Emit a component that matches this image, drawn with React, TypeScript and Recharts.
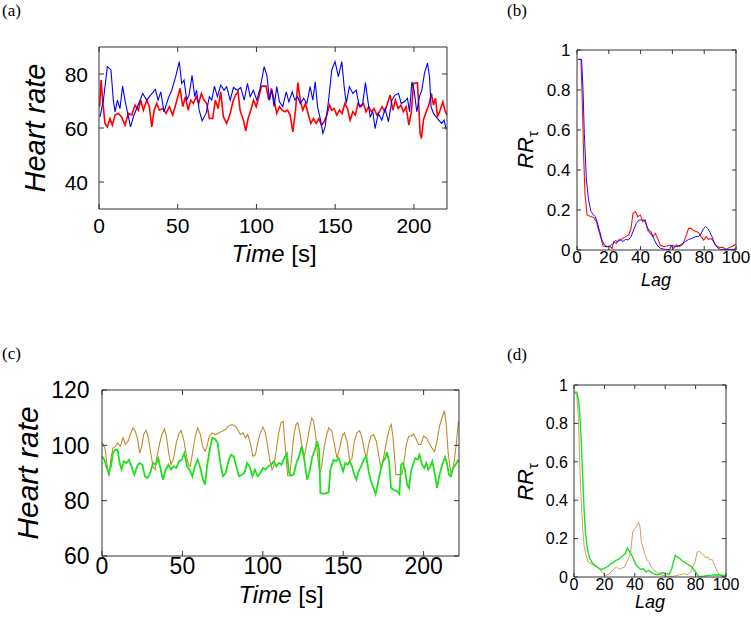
import React from 'react';
import { LineChart, Line, XAxis, YAxis } from 'recharts';

// (a) heart rate vs time
const blueTimeA = [0.6, 2.8, 5.3, 7.6, 9.1, 10.2, 11.7, 13.3, 15, 16.5, 18, 20, 22.2, 24.4, 27.8, 30.3, 32.8, 35.8, 37.5, 39.2, 41.3, 44, 46.2, 48.7, 51, 52.5, 54, 55.7, 57.2, 59.1, 60.8, 62, 63.6, 65.5, 68, 70.1, 71.6, 73.3, 75.2, 77.3, 79.4, 81.1, 83.3, 85.4, 87.9, 90, 92.2, 94.3, 96, 98, 100.2, 102.3, 104.9, 106.6, 108.3, 109.7, 111.2, 112.9, 114.6, 116.7, 118.9, 120.6, 122.7, 124.4, 126.1, 127.8, 129.9, 132, 134.1, 135.8, 137.3, 138.8, 140.5, 142.2, 143.6, 145.8, 147.8, 149.9, 152, 154.2, 155.7, 157, 159, 161.2, 163.3, 165.4, 167.5, 169.2, 170.7, 172.2, 173.9, 175.3, 177.4, 179.6, 181.7, 183.8, 186, 188, 190.2, 191.9, 193.8, 195.9, 197.2, 198.7, 200.1, 201.8, 203.5, 205, 206.7, 208.6, 209.9, 210.9, 212.4, 214.1, 215.8, 217.5, 219.2, 220.5];
const blueHrA = [64.1, 70.3, 82.7, 81.5, 70.3, 66, 70.3, 67.2, 75.5, 70.3, 66, 60.4, 64.8, 67.9, 72.8, 70.3, 72.2, 74.3, 70.3, 73.4, 66, 71, 74, 79, 84.6, 76.5, 77.8, 70.3, 72.2, 79.5, 71.6, 74, 66.6, 62.7, 65.4, 71.6, 70.3, 75.5, 71.6, 75.9, 74, 75.3, 70.3, 75, 74, 75, 70.3, 76.5, 71.6, 74, 70.3, 74.7, 82.7, 79.6, 70.3, 74, 67.9, 75.3, 69.7, 67.9, 73.4, 69.7, 73.4, 70.3, 71.6, 69.1, 71, 69.1, 75.3, 70.3, 77.1, 67.9, 63.5, 58, 60.4, 70.3, 81.5, 84.6, 79, 84.6, 75.3, 69.1, 75.3, 72.8, 74, 67.9, 69.1, 76.8, 70.3, 64.1, 66, 59.8, 65.4, 62.9, 67.2, 62.3, 70.3, 72.2, 72.8, 69.1, 69.7, 71, 66, 77.1, 74, 66, 71.6, 74, 80.3, 84, 79, 67.9, 65.4, 64.1, 62.9, 61.7, 62.9, 59.4];
const redTimeA = [0.4, 1.3, 2.3, 3.8, 5.3, 7, 8.5, 10.2, 12.3, 14.4, 16.5, 18.6, 20.8, 22.9, 25, 26.5, 28.2, 30.3, 32, 33.5, 35, 36.7, 38.3, 40.5, 42.6, 44.7, 46.8, 48.9, 51.5, 53.2, 54.9, 56.6, 58.3, 60, 61.7, 63.3, 65, 66.7, 68.4, 70.1, 72.2, 73.9, 75.6, 77.3, 79, 81.1, 83.3, 85, 86.7, 88.3, 89.6, 91.7, 93.2, 94.7, 96.4, 98.1, 99.8, 101.5, 103.2, 106.1, 107.8, 109.5, 111.2, 112.9, 114.6, 116.3, 118, 119.7, 121.4, 123.1, 124.8, 126.3, 127.8, 129.4, 131.1, 132.8, 134.5, 136.2, 137.9, 139.6, 141.3, 143, 144.7, 146.4, 147.8, 149.3, 151, 152.7, 154.4, 156.1, 157.8, 159.5, 161.2, 162.8, 164.5, 166.3, 167.9, 169.6, 171.3, 173, 174.7, 176.4, 178.1, 179.8, 181.5, 183.2, 184.9, 186.6, 188.2, 190, 191.7, 193.3, 195, 196.8, 198.4, 199.7, 202.2, 203.1, 203.9, 204.8, 206, 207.8, 209.5, 211.1, 212.4, 213.7, 215, 216.6, 218.4, 219.6, 220.9];
const redHrA = [67.9, 77.8, 70.3, 61.7, 60.4, 63.5, 61, 64.8, 65.4, 64.1, 61, 65.4, 64.8, 68.5, 66.6, 70.3, 66.6, 70.3, 67.9, 60.4, 66.6, 69.1, 66.6, 67.2, 65.4, 67.9, 64.8, 69.1, 74.7, 67.9, 71.6, 66.6, 70.3, 69.1, 71.6, 69.1, 72.8, 70.3, 69.1, 63.5, 63.5, 70.3, 67.2, 73.4, 64.1, 61.7, 65.4, 69.7, 72.2, 73.4, 66.6, 62.9, 58.9, 63.5, 66.6, 70.3, 67.9, 71.6, 75.5, 75.5, 70.3, 74.7, 70.3, 65.4, 67.9, 66.6, 66, 66.6, 64.8, 58.6, 66.6, 76.8, 70.3, 66.6, 69.1, 65.4, 61.7, 63.5, 61.7, 63.5, 61, 62.3, 64.8, 68.5, 66.6, 67.2, 64.8, 66.6, 65.4, 69.1, 67.2, 62.9, 66, 64.8, 69.1, 67.9, 69.1, 66, 67.9, 66, 67.2, 64.8, 66, 67.9, 66, 69.1, 72.2, 66.6, 70.3, 67.2, 68.5, 66, 67.9, 61.1, 66, 76.5, 76.8, 67.9, 58, 56.1, 62.9, 66, 68.5, 72.8, 68.5, 71, 64.1, 66.6, 69.7, 66.6, 64.8];

// (b) recurrence rate vs lag
const redLagB = [1, 2.5, 3.4, 4.2, 5, 6.3, 8.4, 10.5, 12.2, 13.6, 15.1, 16.4, 18.9, 21, 22, 23.1, 24.7, 26.2, 28.3, 30.4, 32.5, 34, 35.2, 36.7, 38.2, 39.8, 41.5, 43, 44.4, 46.1, 47.8, 49.3, 50.7, 52.4, 54.5, 56.6, 58.7, 60.8, 62.5, 64.6, 66.7, 68.8, 70.2, 71.7, 73.4, 75, 76.5, 78, 79.7, 81.3, 82.8, 84.3, 86, 87.6, 89.7, 91.8, 93.9, 96, 98.1, 99.8];
const redRrB = [0.953, 0.953, 0.717, 0.467, 0.283, 0.175, 0.167, 0.163, 0.142, 0.1, 0.058, 0.02, 0.017, 0.017, 0.008, 0.042, 0.033, 0.05, 0.055, 0.067, 0.075, 0.108, 0.183, 0.192, 0.167, 0.175, 0.142, 0.15, 0.1, 0.083, 0.067, 0.083, 0.058, 0.025, 0.017, 0.02, 0.025, 0.008, 0.025, 0.017, 0.03, 0.075, 0.108, 0.108, 0.097, 0.092, 0.087, 0.067, 0.05, 0.067, 0.053, 0.058, 0.042, 0.02, 0.013, 0.013, 0.003, 0.013, 0.02, 0.03];
const blueLagB = [0.4, 2.9, 3.8, 4.6, 5.9, 7.3, 8.8, 10.5, 11.5, 12.6, 14.3, 15.7, 17.2, 18.9, 21, 22.6, 24.1, 25.6, 27.3, 28.9, 30.6, 32.3, 34, 35.6, 37.3, 39, 40.7, 42.3, 43.6, 45.1, 46.5, 48.2, 50.3, 52.4, 55.6, 58.3, 59.7, 61.8, 63.9, 66, 68.1, 70.2, 72.3, 74.4, 76.5, 78, 79.7, 80.9, 82.2, 83.4, 84.9, 86.4, 88.1, 90.1, 94.3, 98.5, 99.8];
const blueRrB = [0.953, 0.953, 0.8, 0.583, 0.35, 0.25, 0.192, 0.175, 0.167, 0.142, 0.092, 0.05, 0.025, 0.017, 0.02, 0.033, 0.047, 0.042, 0.05, 0.043, 0.053, 0.05, 0.067, 0.1, 0.133, 0.15, 0.15, 0.15, 0.125, 0.1, 0.092, 0.058, 0.025, 0.008, 0.003, 0.003, 0.025, 0.017, 0.02, 0.03, 0.042, 0.053, 0.058, 0.067, 0.067, 0.083, 0.108, 0.117, 0.108, 0.092, 0.067, 0.033, 0.013, 0.003, 0.003, 0.003, 0.007];

// (c) heart rate vs time
const brownTimeC = [0.4, 2.1, 3.5, 4.4, 5.6, 6.8, 8.3, 9.7, 11.4, 13.1, 14.5, 16.2, 17.6, 19.3, 20.7, 22.2, 23.4, 24.7, 25.9, 27.4, 28.6, 30, 31.7, 33, 34.2, 35.9, 37.3, 38.8, 40, 41.5, 42.9, 44.6, 46.2, 47.7, 49.1, 50.8, 52.2, 53.7, 54.9, 56.6, 58, 59.5, 61.2, 62.6, 64.1, 65.3, 66.7, 68.4, 70.5, 72.6, 74.6, 76.7, 78.8, 80.8, 82.9, 84.4, 86, 87.7, 89.1, 90.6, 92.2, 93.9, 95.4, 96.8, 98.5, 100.1, 101.6, 103, 104.3, 105.7, 106.8, 108.4, 109.9, 111.3, 112.6, 113.4, 114.6, 115.5, 116.7, 118, 119.2, 120.6, 121.7, 122.9, 124.4, 125.8, 127.5, 128.9, 130.4, 131.6, 132.9, 134.1, 135.4, 136.6, 137.9, 139.5, 141, 143, 144.5, 146.1, 147.8, 149.4, 150.7, 152.4, 154, 155.5, 156.9, 158.6, 160.2, 161.7, 163.1, 164.4, 165.8, 167.3, 168.9, 170.6, 172, 173.5, 174.7, 176.2, 177.6, 178.9, 179.9, 181, 182, 182.8, 184.5, 186.6, 187.6, 189.2, 190.7, 192.2, 193.8, 195.5, 196.9, 198.4, 200, 201.7, 203.3, 205.2, 206.8, 208.3, 209.9, 211.4, 212.9, 214.1, 215.2, 216.2, 217.2, 218.7, 220.3, 221.6];
const brownHrC = [100.9, 98.4, 91.2, 88.8, 95.4, 99, 99.6, 100.9, 99.6, 102.7, 100.3, 101.5, 103.9, 106.3, 105.1, 102.1, 97.2, 99.6, 103.9, 105.4, 103.3, 98.4, 92.4, 91.2, 96, 100.9, 103.9, 105.9, 103.3, 97.2, 93, 95.4, 100.9, 103.9, 105.4, 102.1, 97.2, 93, 92.4, 98.4, 103.3, 106.3, 103.9, 99.6, 97.8, 99.6, 103.3, 104.5, 103.9, 104.5, 105.1, 105.7, 107.1, 107.5, 106.9, 105.7, 103.9, 104.5, 102.7, 103.9, 100.9, 96, 96.6, 100.9, 104.5, 106.6, 104.5, 99.6, 94.8, 91.2, 92.4, 98.4, 104.5, 108.1, 108.7, 103.3, 94.8, 89, 89, 96, 103.3, 107.5, 108.1, 105.1, 99.6, 96, 100.9, 105.7, 109.9, 108.7, 103.3, 96, 90, 92.4, 98.4, 103.3, 106.3, 105.1, 100.3, 95.4, 99, 103.3, 104.5, 101.5, 94.2, 95.4, 101.5, 104.5, 105.3, 102.7, 98.4, 95.4, 100.3, 103.3, 103.9, 101.5, 96.6, 91.8, 94.2, 99, 103.3, 106.3, 107.5, 102.7, 95.4, 89.4, 89.4, 89.6, 93, 100.3, 103.3, 103.3, 104.1, 102.1, 100.3, 100.3, 103.3, 102.7, 100.9, 99, 97.8, 101.5, 106.9, 109.9, 112.5, 107.5, 97.8, 93, 89.4, 93, 100.3, 108.7];
const greenTimeC = [0, 1.5, 2.7, 4.1, 5.6, 6.8, 8.3, 9.7, 11, 12.2, 13.5, 15.1, 16.8, 18.4, 20.1, 21.8, 23.4, 25.1, 26.7, 28.4, 30, 31.7, 33.4, 35, 36.5, 37.9, 39.6, 41.3, 42.9, 44.6, 46.2, 47.9, 49.5, 51.2, 52.9, 54.5, 56.2, 57.8, 59.5, 61.2, 62.8, 64.1, 65.3, 67, 68.6, 70.3, 71.9, 73.6, 75.2, 76.9, 78.6, 80.2, 81.9, 83.5, 85.2, 86.9, 88.5, 90.2, 91.8, 93.5, 95.1, 96.8, 98.5, 100.1, 101.8, 103.4, 105.1, 106.8, 108.4, 110.1, 111.7, 113.4, 115, 116.3, 117.5, 119.2, 120.9, 122.5, 124.2, 125.8, 127.5, 129.1, 130.8, 132.5, 133.7, 135, 135.8, 137.9, 141, 142, 144, 145.8, 147.2, 148.6, 149.9, 151.3, 152.7, 154, 155.5, 156.9, 158.2, 159.6, 161.1, 162.7, 164.4, 165.8, 167.3, 168.9, 170.2, 171.4, 173.1, 174.7, 176.2, 177.2, 178.5, 179.7, 181.3, 183.5, 184.9, 186, 187.2, 188.4, 189.7, 190.9, 192.2, 193.4, 194.8, 196.3, 197.5, 199, 200.4, 201.7, 202.9, 204.2, 205.4, 207.1, 208.3, 209.9, 211.6, 213.3, 214.5, 215.8, 217, 218.3, 219.9, 221.6];
const greenHrC = [96, 94.8, 92.4, 90, 92.4, 97.2, 98.4, 98.4, 93.6, 91.2, 94.2, 93.6, 94.8, 92.4, 89.4, 92.4, 93.6, 93, 88.8, 88.2, 90, 93.6, 93, 95.4, 91.2, 87.6, 91.2, 93, 91.2, 92.4, 91.8, 94.2, 94.8, 97.2, 92.4, 91.2, 88.8, 92.4, 94.8, 91.8, 87.6, 85.8, 92.4, 98.4, 102.7, 102.3, 100.9, 93.6, 88.8, 90, 94.2, 96.6, 96, 92.4, 88.8, 89.4, 90, 93.6, 92.4, 88.8, 91.2, 88.8, 90, 91.8, 91.2, 92.4, 93, 94.2, 92.4, 93.6, 93, 95.4, 97, 90, 89, 89.4, 93.6, 96, 99.6, 94.8, 87.6, 90.6, 96, 98.4, 101.5, 98.4, 82.8, 82.5, 83, 91.2, 94.8, 94.2, 95.4, 93, 90.6, 93.6, 93, 94.2, 92.4, 89.4, 87.6, 90.6, 92.4, 94.8, 96, 90.6, 87, 84.6, 82.4, 85.8, 90.6, 94.2, 95.4, 97.6, 94.2, 84.6, 84, 83.4, 82.4, 93, 93.6, 91.2, 85.8, 84.6, 90.6, 93, 95.4, 94.8, 96.6, 93, 91.8, 93.6, 91.2, 92.4, 94.2, 89.4, 84.6, 89.4, 93, 95.7, 93.6, 89.4, 88.8, 91.8, 93, 94.8];

// (d) recurrence rate vs lag
const tanLagD = [0.4, 1.8, 2.9, 3.9, 4.8, 5.7, 6.6, 7.9, 9.4, 11.6, 13.8, 16, 18.2, 20.4, 22.6, 24.8, 26.3, 28.1, 29.8, 31.6, 33.3, 34.6, 36, 37.3, 38.6, 39.9, 41.2, 42.5, 43.4, 44.3, 45.6, 46.9, 48.2, 49.6, 50.9, 52.6, 54.4, 56.1, 57.9, 59.9, 63.2, 66.4, 69.7, 72.4, 74.6, 76.8, 78.1, 79.6, 81.1, 82.5, 84, 85.5, 86.8, 88.2, 89.5, 90.8, 92.1, 93.9, 95.6, 97.8, 99.6];
const tanRrD = [0.962, 0.948, 0.826, 0.565, 0.391, 0.252, 0.165, 0.113, 0.078, 0.066, 0.057, 0.047, 0.03, 0.009, 0.012, 0.03, 0.043, 0.052, 0.04, 0.047, 0.052, 0.078, 0.099, 0.13, 0.235, 0.252, 0.261, 0.287, 0.261, 0.183, 0.148, 0.113, 0.087, 0.075, 0.052, 0.035, 0.026, 0.017, 0.009, 0.005, 0.003, 0.005, 0.012, 0.017, 0.012, 0.026, 0.052, 0.078, 0.13, 0.134, 0.122, 0.113, 0.099, 0.104, 0.087, 0.092, 0.07, 0.035, 0.012, 0.003, 0.003];
const greenLagD = [0.4, 1.8, 3.1, 3.9, 4.8, 5.7, 6.6, 7.5, 8.8, 10.1, 11.6, 13.8, 16, 18.2, 20.4, 22.6, 24.1, 25.9, 27.6, 29.2, 30.7, 32.5, 33.8, 35.1, 36.8, 38.6, 40.4, 42.1, 43.9, 45.6, 47.4, 49.1, 50.9, 52.6, 54.8, 56.6, 58.3, 60.5, 62.7, 64.3, 65.4, 66.7, 68, 69.7, 71.5, 73.2, 75, 76.8, 78.5, 80.3, 81.8, 84, 87.3, 90.6, 93.9, 97.1, 99.6];
const greenRrD = [0.962, 0.962, 0.913, 0.843, 0.704, 0.53, 0.357, 0.235, 0.148, 0.104, 0.078, 0.061, 0.047, 0.038, 0.047, 0.057, 0.07, 0.075, 0.087, 0.092, 0.099, 0.113, 0.122, 0.151, 0.13, 0.104, 0.07, 0.052, 0.04, 0.043, 0.026, 0.035, 0.023, 0.016, 0.012, 0.017, 0.023, 0.017, 0.014, 0.043, 0.078, 0.113, 0.104, 0.096, 0.082, 0.075, 0.064, 0.057, 0.043, 0.023, 0.003, 0.003, 0.007, 0.01, 0.012, 0.009, 0.007];

const timeTicks = [0, 50, 100, 150, 200];
const hrTicksA = [40, 60, 80];
const hrTicksC = [60, 80, 100, 120];
const lagTicks = [0, 20, 40, 60, 80, 100];
const rrTicks = [0, 0.2, 0.4, 0.6, 0.8, 1];

const SANS = "'Liberation Sans', Arial, Helvetica, sans-serif";
const SERIF = "'Liberation Serif', 'Times New Roman', serif";
const FRAME = '#333';

const zip = (xs: number[], ys: number[]) => xs.map((x, i) => ({ x, y: ys[i] }));

type Series = { data: { x: number; y: number }[]; color: string; width: number };

type PanelProps = {
  box: { x: number; y: number; w: number; h: number };
  xDomain: [number, number];
  xTicks: number[];
  yDomain: [number, number];
  yTicks: number[];
  series: Series[];
  fontSize: number;
  xLabelDy: number;
  yLabelDx: number;
  tickLen: number;
};

const PAD = { l: 70, r: 26, t: 22, b: 40 };

function Panel({ box, xDomain, xTicks, yDomain, yTicks, series, fontSize, xLabelDy, yLabelDx, tickLen }: PanelProps) {
  const bottom = PAD.t + box.h;
  const XTick = (p: any) => (
    <text x={p.x} y={bottom + xLabelDy} textAnchor="middle" fontSize={fontSize} fontFamily={SANS} fill="#000">
      {p.payload.value}
    </text>
  );
  const YTick = (p: any) => (
    <text x={PAD.l - yLabelDx} y={p.y} dy="0.36em" textAnchor="end" fontSize={fontSize} fontFamily={SANS} fill="#000">
      {p.payload.value}
    </text>
  );
  const NoTick = () => <g />;
  const line = { stroke: FRAME, strokeWidth: 1 };
  return (
    <div style={{ position: 'absolute', left: box.x - PAD.l, top: box.y - PAD.t }}>
      <LineChart
        width={box.w + PAD.l + PAD.r}
        height={box.h + PAD.t + PAD.b}
        margin={{ top: PAD.t - 1, right: PAD.r - 1, bottom: 0, left: 0 }}
      >
        <XAxis xAxisId="b" dataKey="x" type="number" domain={xDomain} ticks={xTicks} allowDataOverflow
          height={PAD.b} tickSize={-tickLen} tick={XTick} axisLine={line} tickLine={line} />
        <XAxis xAxisId="t" orientation="top" dataKey="x" type="number" domain={xDomain} ticks={xTicks} allowDataOverflow
          height={1} tickSize={-tickLen} tick={NoTick} axisLine={line} tickLine={line} />
        <YAxis yAxisId="l" type="number" domain={yDomain} ticks={yTicks} allowDataOverflow
          width={PAD.l} tickSize={-tickLen} tick={YTick} axisLine={line} tickLine={line} />
        <YAxis yAxisId="r" orientation="right" type="number" domain={yDomain} ticks={yTicks} allowDataOverflow
          width={1} tickSize={-tickLen} tick={NoTick} axisLine={line} tickLine={line} />
        {series.map((s, i) => (
          <Line key={i} xAxisId="b" yAxisId="l" data={s.data} dataKey="y" type="linear"
            stroke={s.color} strokeWidth={s.width} dot={false} activeDot={false} isAnimationActive={false} />
        ))}
      </LineChart>
    </div>
  );
}

function RRLabel({ x, y }: { x: number; y: number }) {
  return (
    <text x={x} y={y} transform={`rotate(-90, ${x}, ${y})`} textAnchor="middle" fontFamily={SANS} fontSize={22} fill="#000">
      <tspan fontStyle="italic">RR</tspan>
      <tspan fontSize={15} dy={5}>τ</tspan>
    </text>
  );
}

export default function App() {
  return (
    <div style={{ position: 'absolute', left: 0, top: 0, width: 751, height: 617, background: '#fff', overflow: 'hidden' }}>
      <Panel
        box={{ x: 99, y: 47, w: 348, h: 162 }}
        xDomain={[0, 221]} xTicks={timeTicks} yDomain={[30, 90]} yTicks={hrTicksA}
        series={[
          { data: zip(redTimeA, redHrA), color: '#ff0000', width: 1.6 },
          { data: zip(blueTimeA, blueHrA), color: '#0000ff', width: 1.1 },
        ]}
        fontSize={21} xLabelDy={24} yLabelDx={11} tickLen={5}
      />
      <Panel
        box={{ x: 577, y: 50, w: 159, h: 200 }}
        xDomain={[0, 100]} xTicks={lagTicks} yDomain={[0, 1]} yTicks={rrTicks}
        series={[
          { data: zip(redLagB, redRrB), color: '#ff1010', width: 1.1 },
          { data: zip(blueLagB, blueRrB), color: '#1010ff', width: 1 },
        ]}
        fontSize={17} xLabelDy={13} yLabelDx={6.5} tickLen={4}
      />
      <Panel
        box={{ x: 102, y: 390, w: 357, h: 166 }}
        xDomain={[0, 222]} xTicks={timeTicks} yDomain={[60, 120]} yTicks={hrTicksC}
        series={[
          { data: zip(brownTimeC, brownHrC), color: '#c4882c', width: 1.1 },
          { data: zip(greenTimeC, greenHrC), color: '#1ee01e', width: 1.8 },
        ]}
        fontSize={23} xLabelDy={17.5} yLabelDx={12.5} tickLen={5}
      />
      <Panel
        box={{ x: 574, y: 385, w: 152, h: 192 }}
        xDomain={[0, 100]} xTicks={lagTicks} yDomain={[0, 1]} yTicks={rrTicks}
        series={[
          { data: zip(tanLagD, tanRrD), color: '#c9a062', width: 1 },
          { data: zip(greenLagD, greenRrD), color: '#1ee01e', width: 1.4 },
        ]}
        fontSize={16} xLabelDy={13} yLabelDx={6} tickLen={4}
      />
      <svg width={751} height={617} style={{ position: 'absolute', left: 0, top: 0, pointerEvents: 'none' }}>
        <g fontFamily={SERIF} fontSize={17} fill="#000">
          <text x={2} y={16}>(a)</text>
          <text x={507} y={16}>(b)</text>
          <text x={2} y={359}>(c)</text>
          <text x={507} y={360}>(d)</text>
        </g>
        <g fontFamily={SANS} fill="#000">
          <text x={45} y={128} transform="rotate(-90, 45, 128)" textAnchor="middle" fontSize={29} fontStyle="italic">Heart rate</text>
          <text x={274} y={262} textAnchor="middle" fontSize={24}>
            <tspan fontStyle="italic">Time</tspan> [s]
          </text>
          <text x={38} y={473} transform="rotate(-90, 38, 473)" textAnchor="middle" fontSize={30} fontStyle="italic">Heart rate</text>
          <text x={281} y={603} textAnchor="middle" fontSize={24}>
            <tspan fontStyle="italic">Time</tspan> [s]
          </text>
          <text x={656} y={286} textAnchor="middle" fontSize={18} fontStyle="italic">Lag</text>
          <text x={650} y={608} textAnchor="middle" fontSize={18} fontStyle="italic">Lag</text>
        </g>
        <RRLabel x={533} y={150} />
        <RRLabel x={533} y={482} />
      </svg>
    </div>
  );
}
